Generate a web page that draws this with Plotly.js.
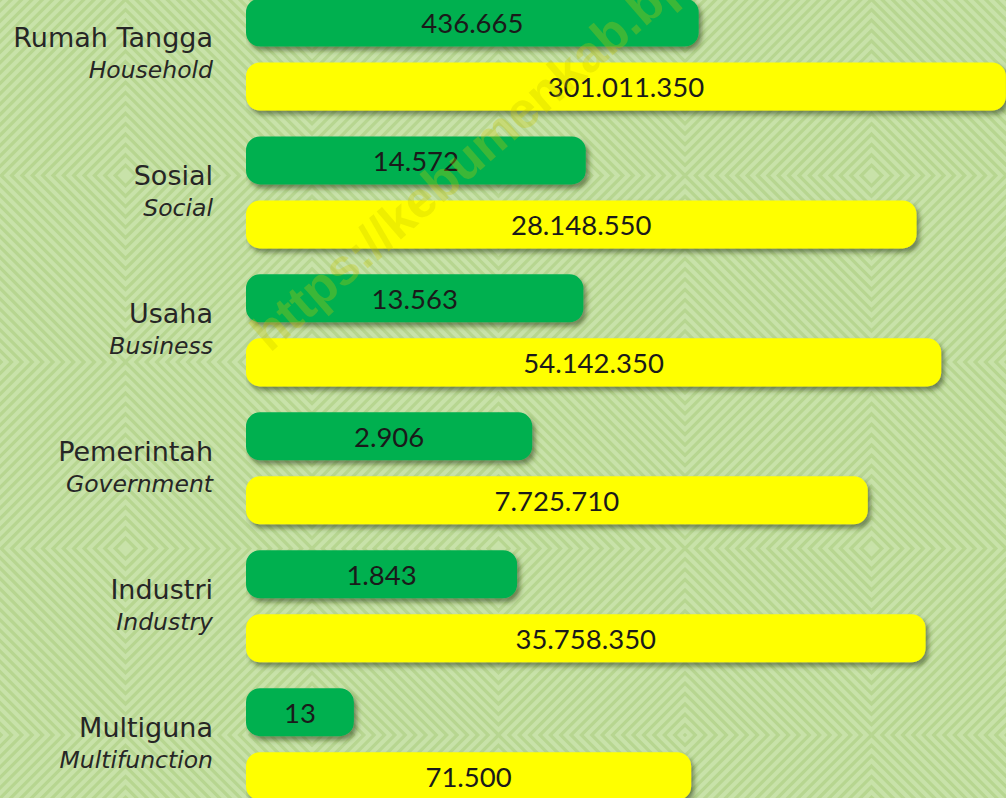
<!DOCTYPE html>
<html>
<head>
<meta charset="utf-8">
<script src="https://cdn.plot.ly/plotly-3.0.1.min.js"></script>
<style>
  html, body { margin: 0; padding: 0; }
  body { width: 1006px; height: 798px; overflow: hidden; background-color: #c6e0a6; }
  #chart { width: 1006px; height: 798px; }
</style>
</head>
<body>
<div id="chart"></div>
<script>
// ---- data ----
const categories   = ['Rumah Tangga', 'Sosial', 'Usaha', 'Pemerintah', 'Industri', 'Multiguna'];
const categoriesEn = ['Household', 'Social', 'Business', 'Government', 'Industry', 'Multifunction'];
const greenValues  = [436665, 14572, 13563, 2906, 1843, 13];
const yellowValues = [301011350, 28148550, 54142350, 7725710, 35758350, 71500];
const watermarkText = 'https://kebumenkab.bps.go.id';

// ---- styling constants ----
const GREEN = '#00b050';
const YELLOW = '#ffff00';
const GREEN_LOG_RANGE = [-0.279, 9.657];
const YELLOW_LOG_RANGE = [-0.272, 8.480];
const BAR_W = 0.348;

// background: concentric diamond pattern
(function () {
  const S = 373, c = S / 2, n = 36, p = S / n;
  let shapes = '';
  for (let k = 1; k <= n; k++) {
    const r = k * p;
    shapes += `<polygon points="${c},${c - r} ${c + r},${c} ${c},${c + r} ${c - r},${c}" />`;
  }
  const svg = `<svg xmlns="http://www.w3.org/2000/svg" width="${S}" height="${S}"><rect width="${S}" height="${S}" fill="#c8e2a9"/><g fill="none" stroke="#b7d690" stroke-width="3.2">${shapes}</g></svg>`;
  document.body.style.backgroundImage = 'url("data:image/svg+xml,' + encodeURIComponent(svg) + '")';
  document.body.style.backgroundSize = S + 'px ' + S + 'px';
  document.body.style.backgroundPosition = (125 - c) + 'px ' + (175 - c) + 'px';
})();

const tickText = categories.map((c, i) =>
  '<span style="font-size:27px">' + c + '</span><br><i>' + categoriesEn[i] + '</i>');

const valueFont = { family: 'Lato, "Liberation Sans", sans-serif', size: 27.5, color: '#1a1a1a' };

const traces = [
  {
    type: 'bar', orientation: 'h',
    y: categories, x: greenValues,
    base: Math.pow(10, GREEN_LOG_RANGE[0]),
    xaxis: 'x', yaxis: 'y',
    width: BAR_W, offset: -0.406,
    marker: { color: GREEN, line: { width: 0 } },
    texttemplate: '%{x:,.0f}', textposition: 'inside', insidetextanchor: 'middle',
    textfont: valueFont, constraintext: 'none',
    hoverinfo: 'skip', showlegend: false
  },
  {
    type: 'bar', orientation: 'h',
    y: categories, x: yellowValues,
    base: Math.pow(10, YELLOW_LOG_RANGE[0]),
    xaxis: 'x2', yaxis: 'y',
    width: BAR_W, offset: 0.058,
    marker: { color: YELLOW, line: { width: 0 } },
    texttemplate: '%{x:,.0f}', textposition: 'inside', insidetextanchor: 'middle',
    textfont: valueFont, constraintext: 'none',
    hoverinfo: 'skip', showlegend: false
  }
];

const hiddenAxis = { showgrid: false, zeroline: false, showticklabels: false, ticks: '', showline: false, fixedrange: true };

const layout = {
  width: 1006, height: 798,
  margin: { l: 246, r: 0, t: 0, b: 0, pad: 0 },
  paper_bgcolor: 'rgba(0,0,0,0)',
  plot_bgcolor: 'rgba(0,0,0,0)',
  separators: ',.',
  xaxis: Object.assign({ type: 'log', range: GREEN_LOG_RANGE, autorange: false }, hiddenAxis),
  xaxis2: Object.assign({ type: 'log', range: YELLOW_LOG_RANGE, autorange: false, overlaying: 'x' }, hiddenAxis),
  yaxis: {
    type: 'category', range: [5.39, -0.395], autorange: false,
    showgrid: false, zeroline: false, showline: false, ticks: '',
    tickvals: categories, ticktext: tickText,
    ticklabelstandoff: 32,
    tickfont: { family: '"DejaVu Sans", sans-serif', size: 23.5, color: '#262626' },
    fixedrange: true
  },
  annotations: [{
    text: '<b>' + watermarkText + '</b>',
    xref: 'paper', yref: 'paper', x: 0.376, y: 0.871,
    xanchor: 'center', yanchor: 'middle',
    showarrow: false, textangle: -41,
    font: { family: '"Liberation Sans", Arial, sans-serif', size: 51, color: 'rgba(200,200,0,0.3)' }
  }],
  showlegend: false
};

Plotly.newPlot('chart', traces, layout, { displayModeBar: false, staticPlot: true }).then(function (gd) {
  const svg = gd.querySelector('svg.main-svg');
  const ns = 'http://www.w3.org/2000/svg';
  let defs = svg.querySelector('defs');
  if (!defs) { defs = document.createElementNS(ns, 'defs'); svg.insertBefore(defs, svg.firstChild); }
  const f = document.createElementNS(ns, 'filter');
  f.setAttribute('id', 'barShadow');
  f.setAttribute('x', '-10%'); f.setAttribute('y', '-40%');
  f.setAttribute('width', '130%'); f.setAttribute('height', '200%');
  const ds = document.createElementNS(ns, 'feDropShadow');
  ds.setAttribute('dx', '3'); ds.setAttribute('dy', '4');
  ds.setAttribute('stdDeviation', '2.5');
  ds.setAttribute('flood-color', '#2b3a10'); ds.setAttribute('flood-opacity', '0.55');
  f.appendChild(ds); defs.appendChild(f);

  gd.querySelectorAll('.barlayer .point path').forEach(function (p) {
    const b = p.getBBox();
    const r = Math.min(14, b.height / 2, b.width / 2);
    const x0 = b.x, y0 = b.y, x1 = b.x + b.width, y1 = b.y + b.height;
    const d = 'M' + (x0 + r) + ',' + y0 + 'H' + (x1 - r) +
      'A' + r + ',' + r + ' 0 0 1 ' + x1 + ',' + (y0 + r) +
      'V' + (y1 - r) + 'A' + r + ',' + r + ' 0 0 1 ' + (x1 - r) + ',' + y1 +
      'H' + (x0 + r) + 'A' + r + ',' + r + ' 0 0 1 ' + x0 + ',' + (y1 - r) +
      'V' + (y0 + r) + 'A' + r + ',' + r + ' 0 0 1 ' + (x0 + r) + ',' + y0 + 'Z';
    p.setAttribute('d', d);
    p.setAttribute('filter', 'url(#barShadow)');
  });
});
</script>
</body>
</html>
